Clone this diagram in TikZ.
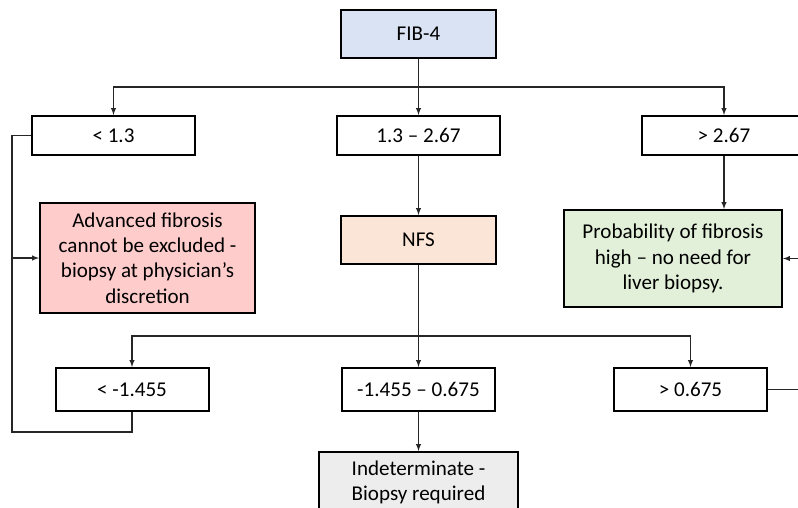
\documentclass[tikz,border=0pt]{standalone}
\usepackage{fontspec}
\setmainfont{Carlito}
\usetikzlibrary{calc}
\definecolor{fibblue}{HTML}{DAE3F3}
\definecolor{nfsorange}{HTML}{FBE5D6}
\definecolor{advred}{HTML}{FFCCCC}
\definecolor{probgreen}{HTML}{E2F0D9}
\definecolor{indgray}{HTML}{EDEDED}
\begin{document}
\begin{tikzpicture}[x=0.75pt, y=-0.75pt]
    \tikzstyle{every node}=[font=\fontsize{15.8}{18.9}\selectfont, align=center]
    \tikzset{
        n/.style={draw, line width=1.5pt, inner sep=0pt, minimum height=39*0.75pt, minimum width=163*0.75pt},
        n2/.style={n, minimum width=155*0.75pt, minimum height=48*0.75pt},
        n3/.style={n, minimum width=153*0.75pt, minimum height=43*0.75pt},
        con/.style={line width=0.8pt, black!85}
        }
    \useasboundingbox (0,0) rectangle (798,507);
    \clip (0,0) rectangle (798,507);

    %FIB-4
    \node (fib) [n2, fill=fibblue] at (418.5,34) {FIB-4};

    %FIB-4 ranges
    \node (lowfib) [n] at (113.5,135.5) {< 1.3};
    \node (midfib) [n] at (418.5,135.5) {1.3 – 2.67};
    \node (highfib) [n, minimum width=164*0.75pt] at (724,135.5) {> 2.67};

    %outcomes
    \node (adv) [n, fill=advred, minimum width=215*0.75pt, minimum height=110*0.75pt] at (147.5,258) {Advanced fibrosis\\cannot be excluded -\\biopsy at physician’s\\discretion};
    \node (nfs) [n2, fill=nfsorange] at (418.5,240) {NFS};
    \node (prob) [n, fill=probgreen, minimum width=218*0.75pt, minimum height=97*0.75pt] at (673,258.5) {Probability of fibrosis\\high – no need for\\liver biopsy.};

    %NFS ranges
    \node (lownfs) [n3] at (132,389.5) {< -1.455};
    \node (midnfs) [n3] at (418.5,389.5) {-1.455 – 0.675};
    \node (highnfs) [n3] at (690.5,389.5) {> 0.675};

    \node (ind) [n, fill=indgray, minimum width=199*0.75pt, minimum height=60*0.75pt] at (418.5,482) {Indeterminate -\\Biopsy required};

    %split points
    \coordinate (fibsplit) at (418.5,87);
    \coordinate (nfssplit) at (418.5,336);
    \coordinate (lefttop) at (12,135.5);
    \coordinate (leftmid) at (12,258);
    \coordinate (leftbot) at (12,432);
    \coordinate (rightbot) at (808,389.5);
    \coordinate (rightmid) at (808,258.5);

    \draw[con] (fib.south) -- (fibsplit);
    \draw[con, -latex] (fibsplit) -| (lowfib.north);
    \draw[con, -latex] (fibsplit) -- (midfib.north);
    \draw[con, -latex] (fibsplit) -| (highfib.north);

    \draw[con, -latex] (midfib.south) -- (nfs.north);
    \draw[con, -latex] (highfib.south) -- (highfib.south |- prob.north);

    \draw[con] (nfs.south) -- (nfssplit);
    \draw[con, -latex] (nfssplit) -| (lownfs.north);
    \draw[con, -latex] (nfssplit) -- (midnfs.north);
    \draw[con, -latex] (nfssplit) -| (highnfs.north);

    \draw[con, -latex] (midnfs.south) -- (ind.north);

    % back to the result boxes
    \draw[con] (lowfib.west) -- (lefttop) -- (leftbot) -| (lownfs.south);
    \draw[con, -latex] (leftmid) -- (adv.west);
    \draw[con, -latex] (highnfs.east) -- (rightbot) -- (rightmid) -- (prob.east);
\end{tikzpicture}
\end{document}
